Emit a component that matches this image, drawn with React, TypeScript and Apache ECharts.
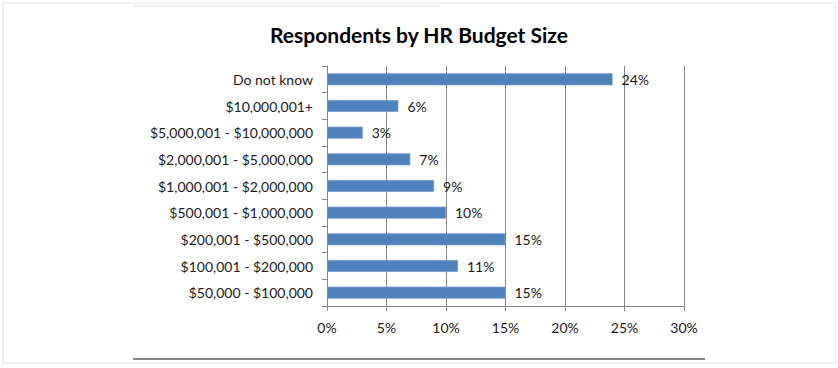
import React, { useEffect, useRef } from "react";
import * as echarts from "echarts";

const categories = [
  "$50,000 - $100,000",
  "$100,001 - $200,000",
  "$200,001 - $500,000",
  "$500,001 - $1,000,000",
  "$1,000,001 - $2,000,000",
  "$2,000,001 - $5,000,000",
  "$5,000,001 - $10,000,000",
  "$10,000,001+",
  "Do not know",
];
const values = [15, 11, 15, 10, 9, 7, 3, 6, 24];
const titleText = "Respondents by HR Budget Size";

const FONT = "Lato, 'Open Sans', sans-serif";

export default function App() {
  const ref = useRef<HTMLDivElement>(null);
  useEffect(() => {
    document.body.style.margin = "0";
    const chart = echarts.init(ref.current!, null, { renderer: "svg" });
    chart.setOption({
      animation: false,
      backgroundColor: "#ffffff",
      title: {
        text: titleText,
        left: "center",
        top: 19,
        textStyle: { fontFamily: FONT, fontSize: 21, fontWeight: "bold", color: "#000" },
      },
      graphic: [
        { type: "rect", shape: { x: 3, y: 3, width: 832, height: 360 }, style: { fill: "none", stroke: "#e2e2e2", lineWidth: 1 } },
        { type: "line", shape: { x1: 133, y1: 6, x2: 440, y2: 6 }, style: { stroke: "#efefef", lineWidth: 2 } },
        { type: "line", shape: { x1: 133, y1: 359, x2: 705, y2: 359 }, style: { stroke: "#858585", lineWidth: 2 } },
      ],
      grid: { left: 327, right: 154, top: 66, bottom: 62, containLabel: false },
      xAxis: {
        type: "value",
        min: 0,
        max: 30,
        interval: 5,
        axisLine: { show: true, lineStyle: { color: "#868686", width: 1 } },
        axisTick: { show: true, length: 5, lineStyle: { color: "#868686" } },
        splitLine: { show: true, lineStyle: { color: "#868686", width: 1 } },
        axisLabel: { formatter: "{value}%", margin: 14, fontFamily: FONT, fontSize: 14, color: "#1a1a1a" },
      },
      yAxis: {
        type: "category",
        data: categories,
        axisLine: { show: true, lineStyle: { color: "#868686", width: 1 } },
        axisTick: { show: true, length: 5, lineStyle: { color: "#868686" } },
        axisLabel: { margin: 14, fontFamily: FONT, fontSize: 14, color: "#1a1a1a" },
      },
      series: [
        {
          type: "bar",
          data: values,
          barWidth: 12,
          itemStyle: { color: "#4f81bd", borderColor: "#7399c9", borderWidth: 0.8 },
          label: {
            show: true,
            position: "right",
            distance: 9,
            formatter: "{c}%",
            fontFamily: FONT,
            fontSize: 14,
            color: "#1a1a1a",
          },
        },
      ],
    });
    return () => chart.dispose();
  }, []);
  return <div ref={ref} style={{ width: 838, height: 368 }} />;
}
